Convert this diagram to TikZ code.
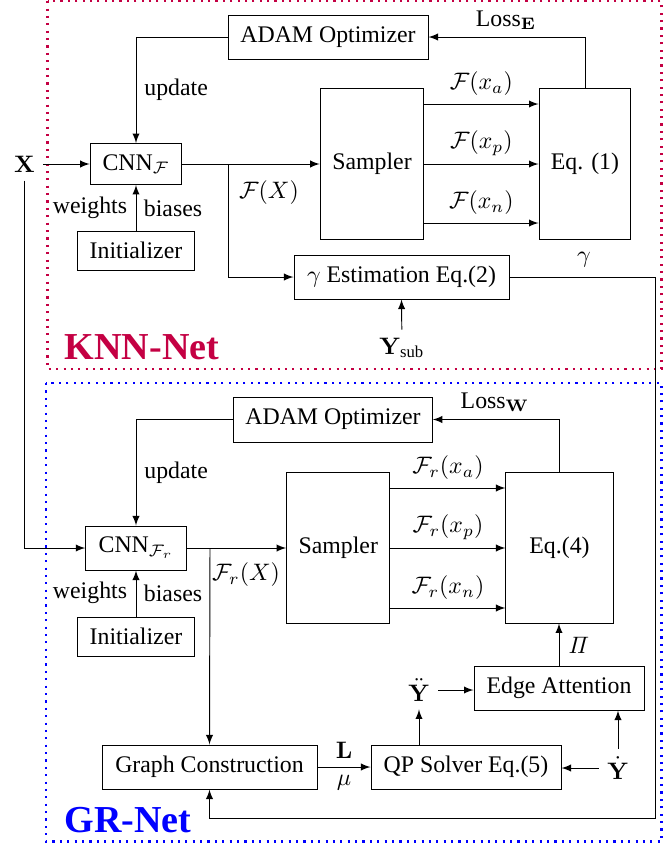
\documentclass[tikz,border=0pt]{standalone}
\usepackage[no-math]{fontspec}
\setmainfont{Liberation Serif}
\usepackage{amsmath}
\usetikzlibrary{arrows}
\definecolor{knnred}{RGB}{196,0,67}
\definecolor{grblue}{RGB}{0,0,255}

\begin{document}
\begin{tikzpicture}[x=0.42pt, y=-0.42pt, >=latex,
    blk/.style={draw, minimum height=18.5pt, inner sep=2pt},
    tallblk/.style={draw, minimum height=63.4pt, inner sep=2pt},
    frame/.style={line width=0.9pt, dash pattern=on 0.9pt off 2.2pt}]
    \useasboundingbox (0,0) rectangle (670,843);

    % frames
    \draw[frame, knnred] (47.5,1.2) rectangle (661.5,369);
    \draw[frame, grblue] (46,383) rectangle (661.5,841.5);
    \node[text=knnred, font=\fontsize{16pt}{18pt}\selectfont\bfseries] (knn) at (142,347) {KNN-Net};
    \node[text=grblue, font=\fontsize{16pt}{18pt}\selectfont\bfseries] (gr) at (128,820) {GR-Net};

    % KNN-Net
    \node (x) at (24.6,164) {$\mathbf{X}$};
    \node[blk, minimum width=84pt] (adam1) at (328,37) {ADAM Optimizer};
    \node[blk, minimum width=38.5pt, minimum height=17.2pt] (cnn1) at (136,164) {CNN$_{\mathcal{F}}$};
    \node[blk, minimum width=49.4pt, minimum height=16.4pt] (init1) at (136,250.5) {Initializer};
    \node[tallblk, minimum width=43.5pt] (samp1) at (372,163.5) {Sampler};
    \node[tallblk, minimum width=38.6pt] (eq1) at (585,163.5) {Eq. (1)};
    \node[blk, minimum width=90.3pt] (gam) at (401.5,277) {$\gamma$ Estimation Eq.(2)};
    \node (ysub) at (402,348) {$\mathbf{Y}_{\textrm{sub}}$};
    \coordinate (br1) at (228,164);

    \draw[->] (x) -- (cnn1);
    \draw[->] (cnn1) -- (samp1.west |- cnn1);
    \draw[->] (br1) |- (gam.west);
    \draw[->] (init1) -- (cnn1);
    \node (w1) at (90,208) {weights};
    \node (b1) at (173,208) {biases};
    \node (fx1) at (269,193) {$\mathcal{F}(X)$};
    \draw[->] (adam1.west) -| (cnn1.north) node[pos=0.75, right] (up1) {update};
    \draw[->] (eq1.north) |- (adam1.east);
    \node (le) at (506,20) {Loss$_{\mathbf{E}}$};
    \foreach \y/\s in {104/a,164/p,223/n}
	\draw[->] (samp1.east |- 0,\y) -- (eq1.west |- 0,\y) node[midway, above] (f\s) {$\mathcal{F}(x_\s)$};
    \draw[->] (ysub) -- (gam.south);
    \node (g) at (584,260) {$\gamma$};

    % GR-Net
    \node[blk, minimum width=83.4pt, minimum height=18.9pt] (adam2) at (333,419.5) {ADAM Optimizer};
    \node[blk, minimum width=42.2pt] (cnn2) at (136,548) {CNN$_{\mathcal{F}_r}$};
    \node[blk, minimum width=49.4pt, minimum height=16.4pt] (init2) at (136,636.5) {Initializer};
    \node[tallblk, minimum width=43.4pt] (samp2) at (338.3,547.5) {Sampler};
    \node[tallblk, minimum width=45pt] (eq4) at (559.5,547.5) {Eq.(4)};
    \node[blk, minimum width=71.4pt] (edge) at (559,688) {Edge Attention};
    \node[blk, minimum width=79.8pt] (qp) at (466,767) {QP Solver Eq.(5)};
    \node[blk, minimum width=90.3pt] (gc) at (209.5,767) {Graph Construction};
    \node (ydd) at (419,690) {$\ddot{\mathbf{Y}}$};
    \node (yd) at (618,768) {$\dot{\mathbf{Y}}$};
    \coordinate (br2) at (210,548);
    \coordinate (rt) at (655,818);

    \draw[->] (x.south) |- (cnn2.west);
    \draw[->] (cnn2) -- (samp2.west |- cnn2);
    \draw[->] (br2) -- (gc.north);
    \draw[->] (init2) -- (cnn2);
    \node (w2) at (90,593) {weights};
    \node (b2) at (173,593) {biases};
    \node (fx2) at (246,575) {$\mathcal{F}_r(X)$};
    \draw[->] (adam2.west) -| (cnn2.north) node[pos=0.75, right] (up2) {update};
    \draw[->] (eq4.north) |- (adam2.east);
    \node (lw) at (495,402) {Loss$_{\mathbf{W}}$};
    \foreach \y/\s in {488/a,548/p,608/n}
	\draw[->] (samp2.east |- 0,\y) -- (eq4.west |- 0,\y) node[midway, above] (fr\s) {$\mathcal{F}_r(x_\s)$};
    \draw[->] (edge) -- (eq4.south -| edge);
    \node (pi) at (579,645) {$\mathit{\Pi}$};
    \draw[->] (qp.north -| ydd) -- (ydd);
    \draw[->] (ydd.east) -- (ydd.east -| edge.west);
    \draw[->] (yd.west) -- (yd.west -| qp.east);
    \draw[->] (yd) -- (yd |- edge.south);
    \draw[->] (gc) -- (qp) node[midway, above] (l) {$\mathbf{L}$} node[midway, below] (mu) {$\mu$};
    \draw[->] (gam.east) -| (rt) -| (gc.south);
\end{tikzpicture}
\end{document}
